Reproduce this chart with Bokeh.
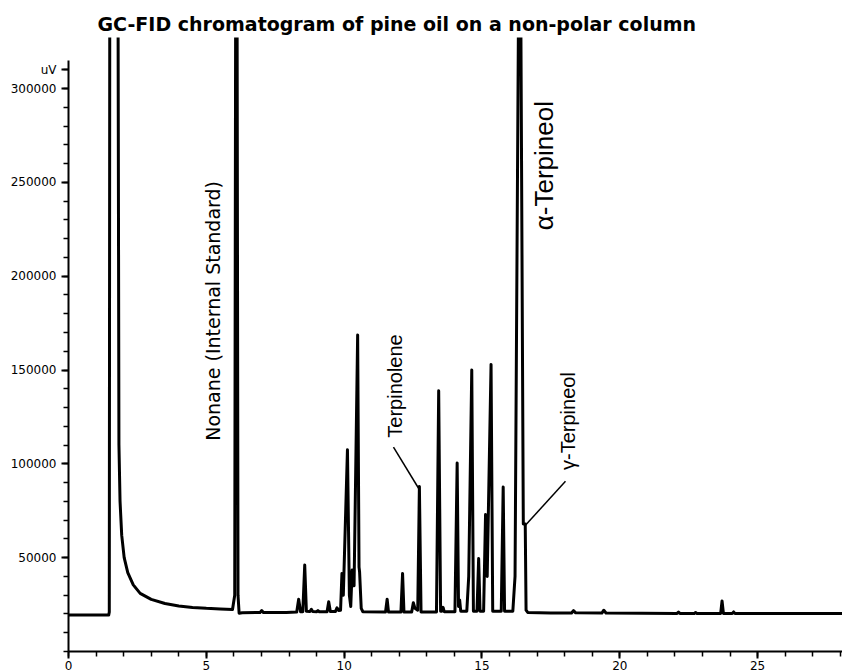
from bokeh.plotting import figure
from bokeh.models import Label, FixedTicker, BasicTickFormatter, Range1d
from bokeh.embed import file_html
from bokeh.resources import INLINE

# ---- data (time in min, signal in uV) ----
time_min = [
    0.00, 1.46, 1.48, 1.50, 1.79, 1.83, 1.87, 1.93, 2.02, 2.15, 2.35, 2.60, 3.00,
    3.50, 4.00, 4.50, 5.00, 5.50, 5.95,
    6.03, 6.07, 6.11, 6.15, 6.19, 6.30,
    6.95, 7.01, 7.07, 7.90,
    8.28, 8.35, 8.42, 8.50, 8.57, 8.63, 8.76, 8.81, 8.86, 9.00, 9.05, 9.10,
    9.38, 9.44, 9.50, 9.68, 9.74, 9.80,
    9.87, 9.92, 9.97, 10.12, 10.19, 10.24, 10.29, 10.36, 10.49, 10.54, 10.56,
    10.62, 10.68,
    11.50, 11.56, 11.61,
    12.06, 12.12, 12.17,
    12.45, 12.51, 12.57, 12.67, 12.73, 12.79,
    13.35, 13.43, 13.50, 13.55, 13.59, 13.63,
    14.02, 14.10, 14.15, 14.19, 14.23,
    14.45, 14.52, 14.63, 14.69,
    14.82, 14.88, 14.93,
    15.06, 15.13, 15.19, 15.33, 15.39,
    15.70, 15.77, 15.82,
    16.12, 16.20, 16.35, 16.39, 16.50, 16.57, 16.60, 16.66,
    17.50, 18.25, 18.32, 18.40, 19.35, 19.42, 19.50,
    22.08, 22.13, 22.18, 22.70, 22.75, 22.80,
    23.66, 23.71, 23.76, 24.08, 24.13, 24.18, 28.08,
]
signal_uv = [
    19400, 19400, 21000, 400000, 400000, 110000, 80000, 62000, 50000, 42000,
    35500, 31000, 27800, 25600, 24300, 23500, 23000, 22700, 22400,
    30000, 400000, 400000, 30000, 20400, 20700,
    20800, 21800, 20800, 20800,
    21000, 27900, 21200, 21200, 46100, 21500, 21300, 22500, 21300, 21200, 21800, 21200,
    21200, 26500, 21300, 21300, 23300, 21800,
    22000, 41600, 30000, 107500, 30000, 24000, 43400, 35000, 168600, 45000, 42500,
    23000, 21200,
    21000, 27900, 21000,
    21000, 41600, 21000,
    21000, 26000, 23000, 22000, 87900, 21000,
    21000, 139000, 21500, 21500, 23500, 21200,
    21200, 100500, 24000, 27500, 21500,
    21500, 40000, 150000, 21500,
    21500, 49600, 21500,
    21500, 73000, 40000, 153000, 21500,
    21500, 87600, 21500,
    21500, 40000, 400000, 400000, 68000, 68000, 22000, 20800,
    20500, 20500, 21800, 20600, 20500, 22000, 20500,
    20300, 21000, 20300, 20300, 20800, 20300,
    20300, 26900, 20300, 20300, 21100, 20300, 20200,
]

x_major = [0, 5, 10, 15, 20, 25]
x_minor = list(range(0, 29))
y_major = [50000, 100000, 150000, 200000, 250000, 300000, 310000]
y_minor = list(range(0, 320000, 10000))
y_unit = "uV"

title_text = "GC-FID chromatogram of pine oil on a non-polar column"
peak_labels = ["Nonane (Internal Standard)", "Terpinolene", "\u03b1-Terpineol", "\u03b3-Terpineol"]

# ---- figure ----
p = figure(width=842, height=672, x_range=Range1d(0, 28.08), y_range=Range1d(0, 327200),
           output_backend="svg", toolbar_location=None,
           min_border_left=68, min_border_right=0, min_border_top=37, min_border_bottom=0)
p.grid.visible = False
p.outline_line_color = None
p.background_fill_color = "white"
p.border_fill_color = "white"

p.title.text = title_text
p.title.align = "left"
p.title.offset = 29
p.title.standoff = 5
p.title.text_font = "DejaVu Sans"
p.title.text_font_size = "19px"
p.title.text_font_style = "bold"
p.title.text_color = "black"

p.line(time_min, signal_uv, line_width=3, color="black", line_join="round")

for ax in (p.xaxis[0], p.yaxis[0]):
    ax.axis_line_width = 2
    ax.axis_line_color = "black"
    ax.major_tick_line_width = 2
    ax.minor_tick_line_width = 1.5
    ax.major_tick_line_color = "black"
    ax.minor_tick_line_color = "black"
    ax.major_tick_in = 0
    ax.major_tick_out = 7
    ax.minor_tick_in = 0
    ax.minor_tick_out = 5
    ax.major_label_text_font = "DejaVu Sans"
    ax.major_label_text_font_size = "12px"
    ax.major_label_text_color = "black"

p.xaxis.ticker = FixedTicker(ticks=x_major, minor_ticks=x_minor)
p.xaxis.major_label_standoff = 2
p.yaxis.ticker = FixedTicker(ticks=y_major, minor_ticks=y_minor)
p.yaxis.formatter = BasicTickFormatter(use_scientific=False)
p.yaxis.major_label_overrides = {310000: y_unit}
p.yaxis.major_label_standoff = 5
p.yaxis.bounds = (0, 315000)

# peak annotations
p.add_layout(Label(x=5.26, y=181500, text=peak_labels[0], angle=1.5708, text_font="DejaVu Sans",
                   text_font_size="19px", text_align="center", text_baseline="middle",
                   text_color="black"))
p.add_layout(Label(x=11.83, y=141500, text=peak_labels[1], angle=1.5708,
                   text_font="Liberation Sans", text_font_size="20px", text_align="center",
                   text_baseline="middle", text_color="black"))
p.add_layout(Label(x=17.24, y=258900, text=peak_labels[2], angle=1.5708,
                   text_font="Liberation Sans", text_font_size="26px", text_align="center",
                   text_baseline="middle", text_color="black"))
p.add_layout(Label(x=18.11, y=122800, text=peak_labels[3], angle=1.5708,
                   text_font="Liberation Sans", text_font_size="20px", text_align="center",
                   text_baseline="middle", text_color="black"))

# leader lines
p.segment(x0=[11.79, 18.03], y0=[108900, 90700], x1=[12.70, 16.56], y1=[87000, 67000],
          line_width=1.5, color="black")

open("out.html", "w").write(file_html(p, INLINE))
